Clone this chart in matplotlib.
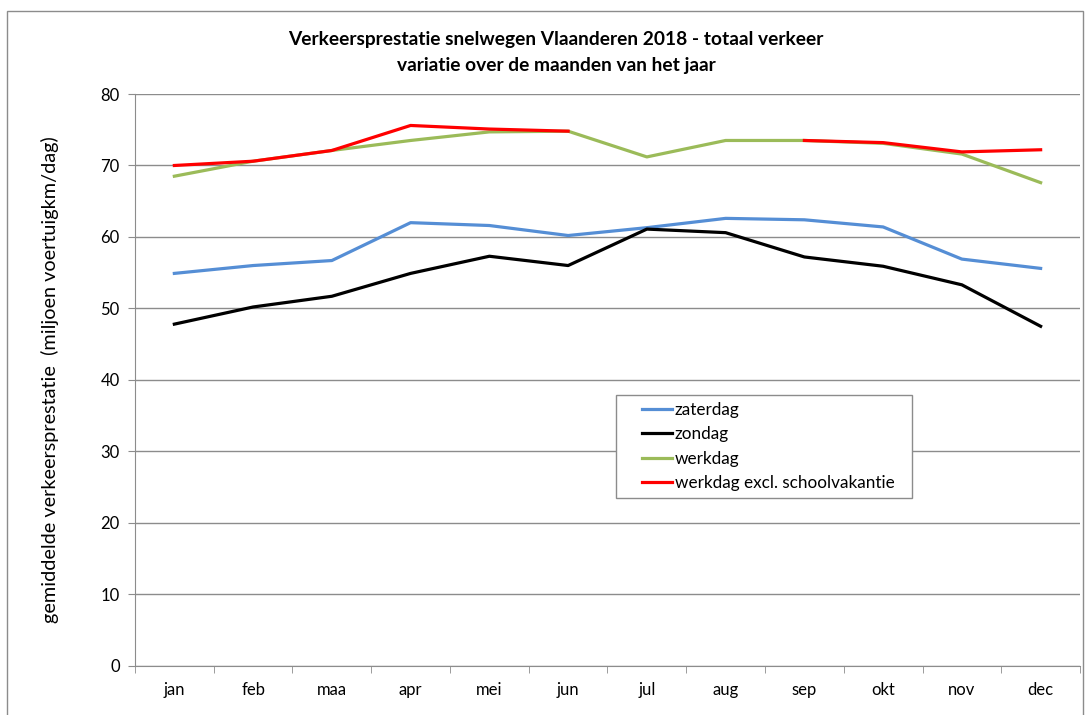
import matplotlib
matplotlib.use('Agg')
import matplotlib.pyplot as plt
from matplotlib.patches import Rectangle
from matplotlib.legend_handler import HandlerLine2D

months = ['jan', 'feb', 'maa', 'apr', 'mei', 'jun', 'jul', 'aug', 'sep', 'okt', 'nov', 'dec']

zaterdag = [54.9, 56.0, 56.7, 62.0, 61.6, 60.2, 61.3, 62.6, 62.4, 61.4, 56.9, 55.6]
zondag = [47.8, 50.2, 51.7, 54.9, 57.3, 56.0, 61.1, 60.6, 57.2, 55.9, 53.3, 47.5]
werkdag = [68.5, 70.6, 72.1, 73.5, 74.7, 74.8, 71.2, 73.5, 73.5, 73.1, 71.6, 67.6]
# no value in the summer holiday months (jul, aug)
werkdag_excl = [70.0, 70.6, 72.1, 75.6, 75.1, 74.8, None, None, 73.5, 73.2, 71.9, 72.2]

plt.rcParams['font.family'] = ['Lato', 'DejaVu Sans']

fig = plt.figure(figsize=(10.85, 7.15), dpi=100)
ax = fig.add_axes([0.1244, 0.0689, 0.8710, 0.7996])

# outer chart border
fig.patches.append(Rectangle((0.0065, -0.01), 0.9915, 0.995, transform=fig.transFigure,
                             fill=False, edgecolor='#8c8c8c', linewidth=1.0))

xs = list(range(len(months)))
ax.plot(xs, zaterdag, color='#558ED5', lw=2.3, label='zaterdag', zorder=3)
ax.plot(xs, zondag, color='black', lw=2.3, label='zondag', zorder=3)
ax.plot(xs, werkdag, color='#9BBB59', lw=2.3, label='werkdag', zorder=3)
ax.plot(xs[:6], werkdag_excl[:6], color='#FF0000', lw=2.3, label='werkdag excl. schoolvakantie', zorder=4)
ax.plot(xs[8:], werkdag_excl[8:], color='#FF0000', lw=2.3, zorder=4)

ax.set_xlim(-0.5, 11.5)
ax.set_ylim(0, 80)
ax.set_yticks(range(0, 81, 10))
ax.set_xticks(xs)
ax.set_xticklabels(months, fontsize=12)
ax.set_xticks([x - 0.5 for x in range(13)], minor=True)
ax.tick_params(axis='x', which='major', length=0, pad=12)
ax.tick_params(axis='x', which='minor', length=5, color='#8c8c8c', direction='out')
ax.tick_params(axis='y', length=5, color='#8c8c8c', labelsize=12, pad=6)
ax.grid(axis='y', color='#8c8c8c', lw=1.0)
ax.set_axisbelow(True)
for s in ['top', 'right']:
    ax.spines[s].set_visible(False)
for s in ['left', 'bottom']:
    ax.spines[s].set_color('#8c8c8c')

ax.set_ylabel('gemiddelde verkeersprestatie  (miljoen voertuigkm/dag)', fontsize=14.3, labelpad=30)

fig.text(0.5125, 0.945, 'Verkeersprestatie snelwegen Vlaanderen 2018 - totaal verkeer',
         ha='center', va='center', fontsize=13.8, fontweight='bold')
fig.text(0.5125, 0.909, 'variatie over de maanden van het jaar',
         ha='center', va='center', fontsize=13.8, fontweight='bold')

leg = ax.legend(loc='upper left', bbox_to_anchor=(0.509, 0.274, 0.313, 0.2), mode='expand',
                fontsize=12.3, frameon=True, fancybox=False, edgecolor='#8c8c8c',
                handlelength=2.9, borderpad=0.4, labelspacing=0.5, borderaxespad=0,
                handletextpad=0.15, handler_map={matplotlib.lines.Line2D: HandlerLine2D(xpad=1.1)})
leg.get_frame().set_linewidth(1.0)
leg.get_frame().set_alpha(1)

fig.savefig('out.png', dpi=100)
